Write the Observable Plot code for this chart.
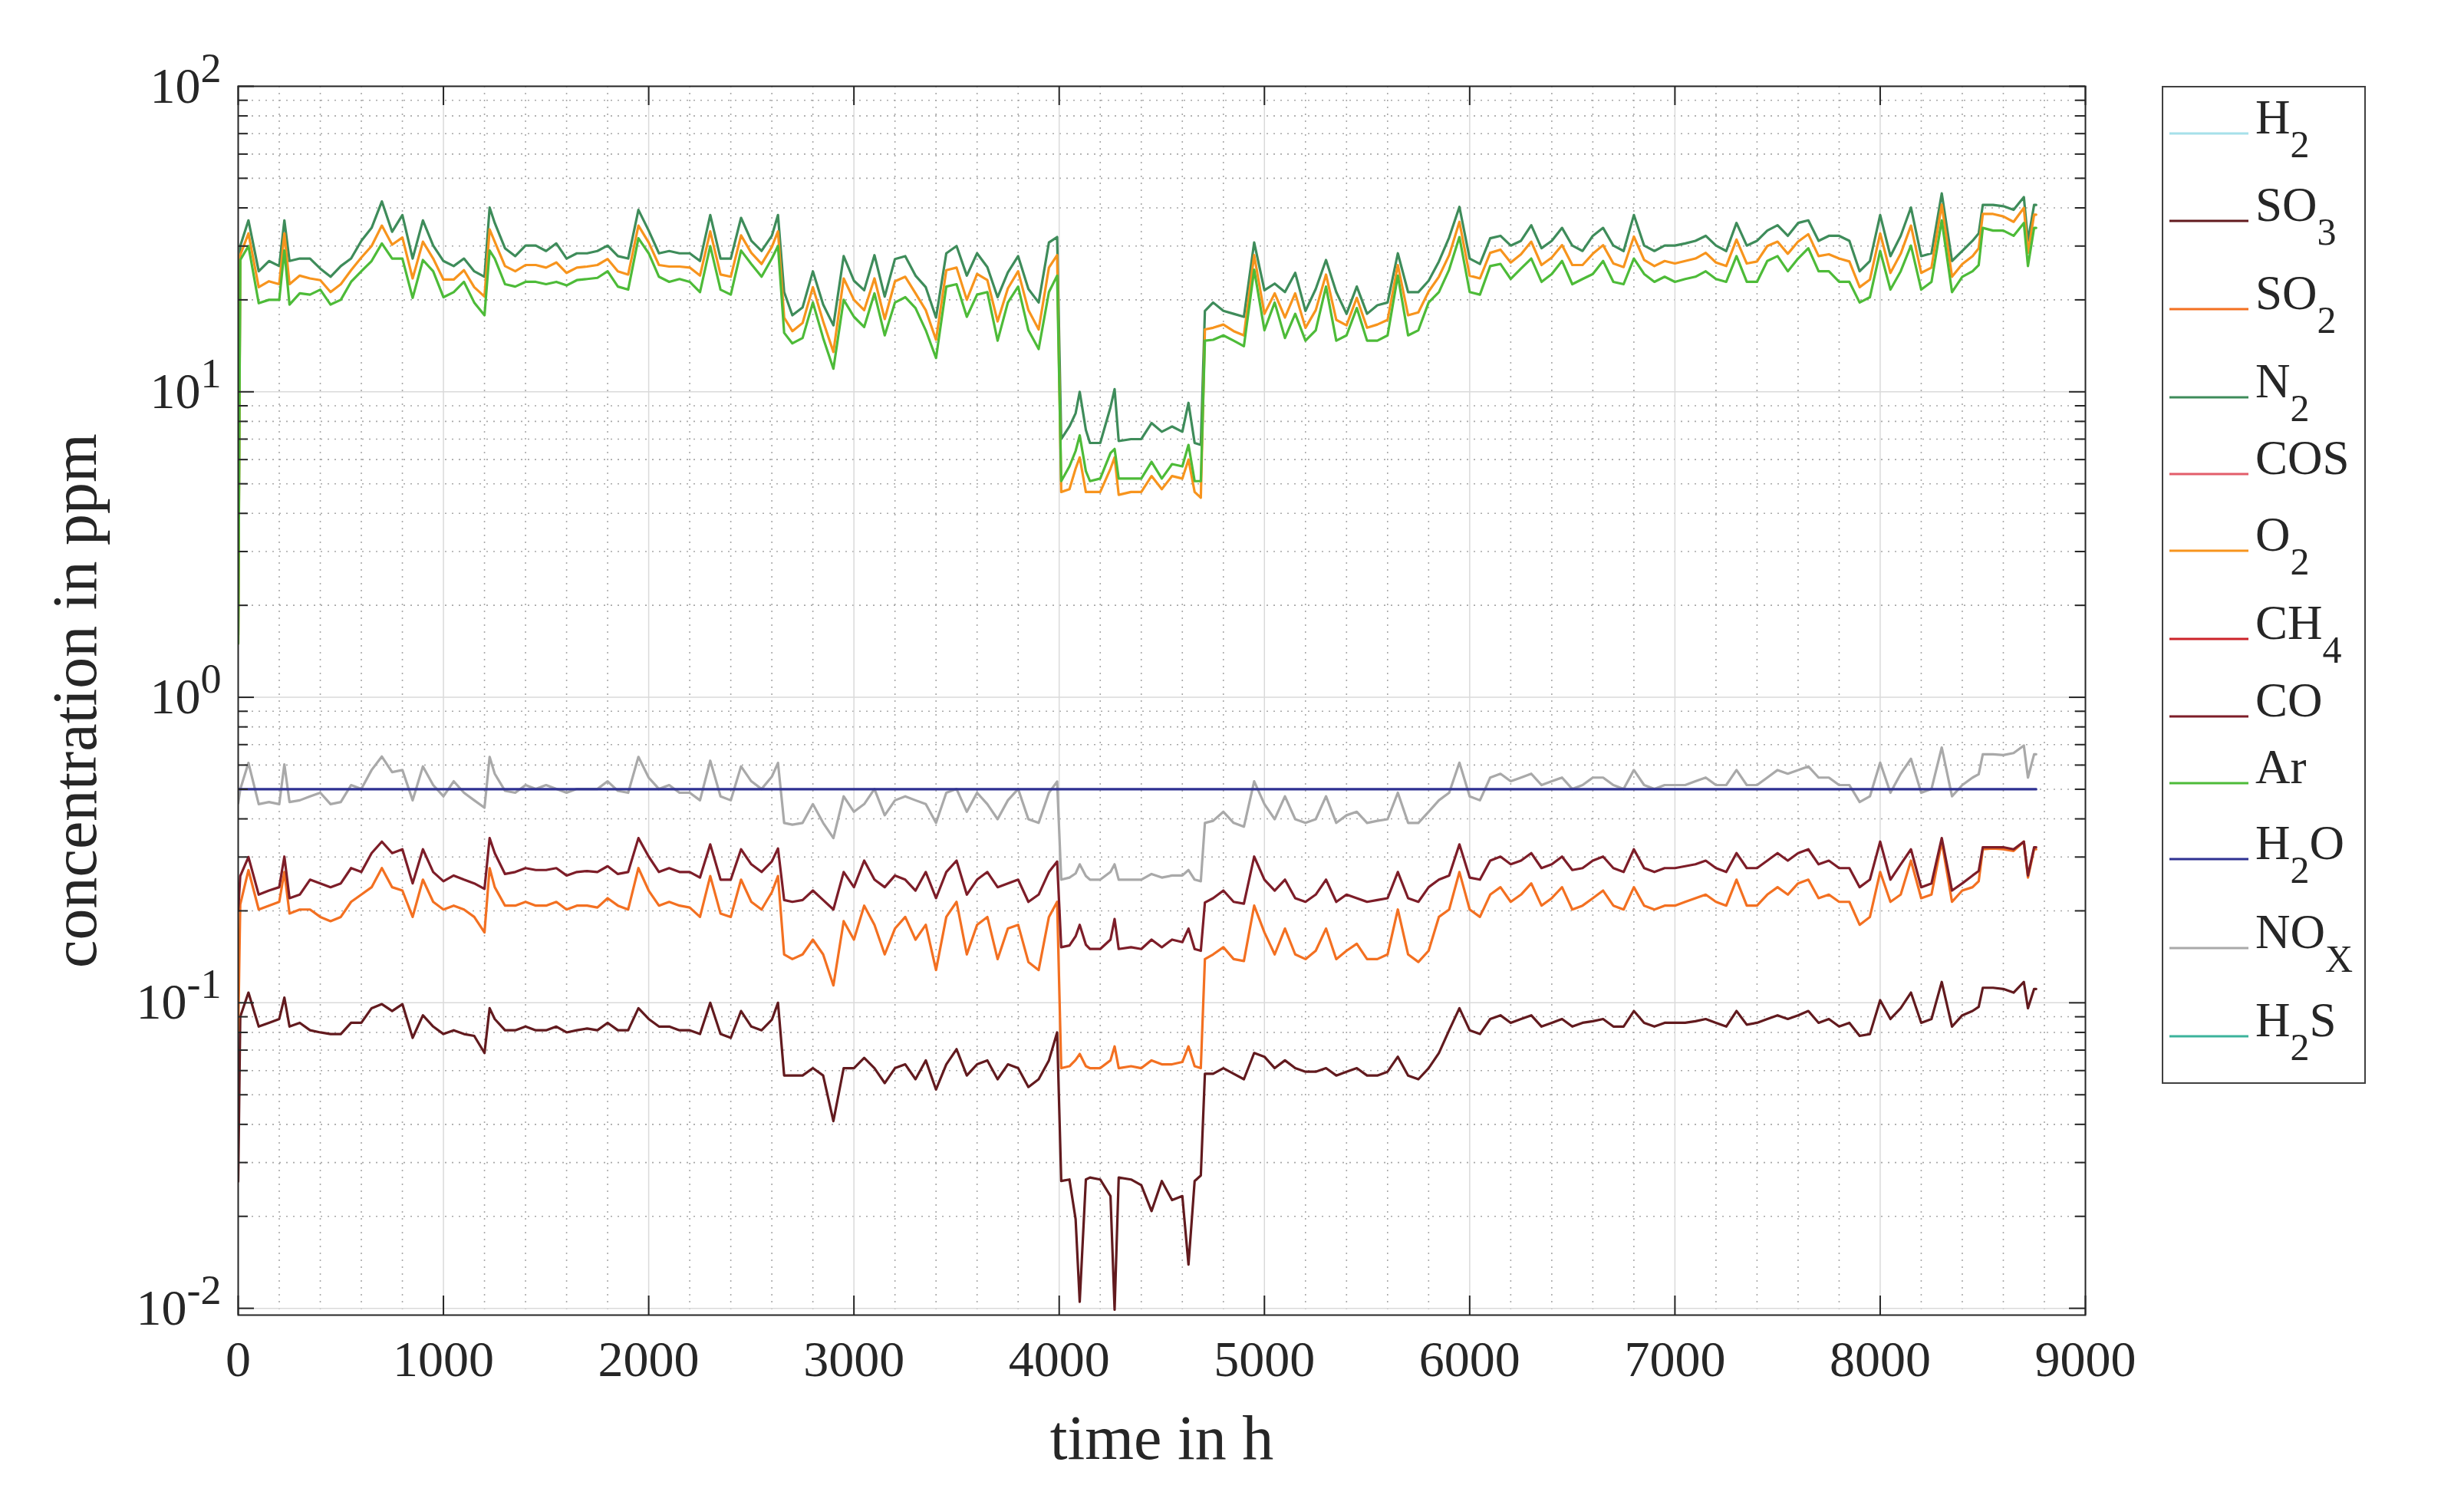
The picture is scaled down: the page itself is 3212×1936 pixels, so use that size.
<!DOCTYPE html>
<html><head><meta charset="utf-8">
<script src="https://cdn.jsdelivr.net/npm/d3@7"></script>
<script src="https://cdn.jsdelivr.net/npm/@observablehq/plot@0.6"></script>
<style>
html,body{margin:0;padding:0;background:#fff;}
#wrap{position:relative;width:3212px;height:1936px;overflow:hidden;}
</style></head><body><div id="wrap"></div>
<script>
// ---------- data (time in h, concentration in ppm) ----------
const hours = [
  0,10,50,100,150,200,225,250,300,350,
  400,450,500,550,600,650,700,750,800,850,
  900,950,1000,1050,1100,1150,1200,1225,1250,1300,
  1350,1400,1450,1500,1550,1600,1650,1700,1750,1800,
  1850,1900,1950,2000,2050,2100,2150,2200,2250,2300,
  2350,2400,2450,2500,2550,2600,2630,2660,2700,2750,
  2800,2850,2900,2950,3000,3050,3100,3150,3200,3250,
  3300,3350,3400,3450,3500,3550,3600,3650,3700,3750,
  3800,3850,3900,3950,3990,4010,4050,4080,4100,4130,
  4150,4200,4250,4270,4290,4350,4400,4450,4500,4550,
  4600,4630,4660,4690,4710,4750,4800,4850,4900,4950,
  5000,5050,5100,5150,5200,5250,5300,5350,5400,5450,
  5500,5550,5600,5650,5700,5750,5800,5850,5900,5950,
  6000,6050,6100,6150,6200,6250,6300,6350,6400,6450,
  6500,6550,6600,6650,6700,6750,6800,6850,6900,6950,
  7000,7050,7100,7150,7200,7250,7300,7350,7400,7450,
  7500,7550,7600,7650,7700,7750,7800,7850,7900,7950,
  8000,8050,8100,8150,8200,8250,8300,8350,8400,8450,
  8480,8500,8550,8600,8650,8700,8720,8750,8760
];

const n2 = [
  1.6,30,36.4,24.8,26.8,25.8,36.4,26.8,27.3,27.3,
  25.3,23.8,25.8,27.3,31.2,34.4,42,33.4,37.9,27.3,
  36.4,30.1,26.8,25.8,27.3,24.8,23.8,40.1,35.7,29.5,
  27.8,30.1,30.1,28.9,30.6,27.3,28.4,28.4,28.9,30.1,
  27.8,27.3,39.4,33.7,28.4,28.9,28.4,28.4,26.8,37.9,
  27.3,27.3,37.1,31.2,28.9,32.4,37.9,21.2,17.8,18.9,
  24.8,19.3,16.5,27.8,23.1,21.5,28,20.5,27.2,27.8,
  24.0,22,17.5,28.4,30,24.0,28.4,25.6,20.4,24.6,
  27.8,21.7,19.6,30.8,32.1,7.0,7.7,8.5,10.0,7.5,
  6.8,6.8,8.9,10.2,6.9,7.0,7.0,7.9,7.4,7.7,
  7.4,9.2,6.8,6.7,18.4,19.6,18.4,18.0,17.6,30.8,
  21.5,22.6,21.2,24.5,18.4,21.7,27,21.2,18.0,22.1,
  18.0,19.2,19.6,28.4,21.2,21.2,23.1,26.7,32,40.3,
  27.3,26.2,31.8,32.4,30.1,31.2,35.1,29.5,31.2,34.4,
  30.1,28.9,32.4,34.4,30.1,28.9,37.9,30.1,28.9,30.1,
  30.1,30.6,31.2,32.4,30.1,28.9,35.7,30.1,31.2,33.7,
  35.1,32.4,35.7,36.4,31.2,32.4,32.4,31.2,24.8,26.8,
  37.9,27.8,32.4,40.1,27.8,28.4,44.6,26.8,28.9,31.2,
  33,40.9,40.9,40.5,39.4,43.4,31.2,40.9,40.9
];

const o2 = [
  1.5,28,33,22,23,22.5,33,22.5,24,23.5,
  23.2,21.2,22.5,25,27.5,30,35,30.3,32,23.5,
  31,27.3,23.3,23.3,25,22,20.5,34,31,25.8,
  24.8,26,26,25.5,26.5,24.5,25.5,25.7,26,27.2,
  24.8,24.2,35,30.8,26,25.7,25.7,25.5,24,33.5,
  24.2,23.8,32.5,28.5,26.2,29.8,33.5,17.5,15.8,16.8,
  22,17,13.5,23.5,20,18.5,23.5,17.3,23,23.8,
  21,18.5,14.8,25,25.5,20,24.3,23.2,17,21.8,
  24.8,18.5,16,25.5,28,4.7,4.8,5.6,6.1,4.7,
  4.7,4.7,5.6,6.1,4.6,4.7,4.7,5.3,4.8,5.3,
  5.2,6.0,4.7,4.5,16,16.2,16.6,15.8,15.3,28,
  18,21,17.5,21,16.2,18.5,24.2,17.2,16.5,20.3,
  16.2,16.6,17.2,26,17.8,18.2,21.3,23.8,28,36,
  24,23.5,28.5,29.2,26.5,28.2,31,26,27.5,30.2,
  26,26,28.3,30.2,26.3,25.6,32.2,27,25.8,26.8,
  26.3,26.8,27.3,28.5,26.5,25.8,31.5,26.3,26.7,30,
  31,28.3,31,32.8,27.8,28.2,27.3,26.7,22,23.3,
  33,24.5,28.3,35,24.5,25.5,41,23.8,26.2,27.8,
  29.5,38.2,38.2,37.5,36,40,28.5,38,38
];

const ar = [
  1.5,27,30,19.5,20,20,29,19.3,21,20.8,
  21.6,19.3,20,22.9,24.8,26.8,30.6,27.3,27.3,20.3,
  27,24.8,20.4,21.2,22.9,19.6,17.8,29,27.3,22.5,
  22.1,22.9,22.9,22.5,22.9,22.3,23.2,23.4,23.6,24.8,
  22.1,21.6,31.8,28.4,23.8,22.9,23.4,22.9,21.2,30,
  21.6,20.8,29,26.2,23.8,27.3,30,15.6,14.4,15,
  19.6,15,11.9,20,17.6,16.3,21,15.3,19.6,20.4,
  18.8,15.9,12.9,22.1,22.5,17.6,20.8,21.2,14.7,19.6,
  22.1,15.9,13.8,21.2,24,5.1,5.7,6.4,7.2,5.5,
  5.1,5.2,6.3,6.5,5.2,5.2,5.2,5.9,5.2,5.8,
  5.7,6.7,5.1,5.1,14.7,14.8,15.3,14.7,14.1,25.1,
  15.9,19.6,15.0,18.0,14.7,15.9,22.1,14.7,15.3,18.8,
  14.7,14.7,15.3,24.0,15.3,15.9,19.6,21.2,25.1,32.1,
  21.2,20.8,25.8,26.2,23.4,25.3,27.3,22.9,24.3,26.8,
  22.5,23.4,24.3,26.8,22.9,22.5,27.3,24.3,22.9,23.8,
  22.9,23.4,23.8,24.8,23.4,22.9,27.8,22.9,22.9,26.8,
  27.8,24.8,27.3,29.5,24.8,24.8,22.9,22.9,19.6,20.4,
  28.9,21.6,24.8,30.1,21.6,22.9,36.4,21.2,23.8,24.8,
  26,34.4,33.7,33.7,32.4,35.7,25.8,34.4,34.4
];

const nox = [
  0.45,0.5,0.61,0.447,0.454,0.447,0.603,0.454,0.46,0.474,
  0.487,0.447,0.454,0.516,0.501,0.578,0.64,0.569,0.578,0.46,
  0.594,0.516,0.474,0.531,0.487,0.46,0.435,0.638,0.562,0.494,
  0.487,0.516,0.501,0.516,0.501,0.487,0.501,0.501,0.501,0.531,
  0.494,0.487,0.638,0.546,0.501,0.516,0.487,0.487,0.46,0.62,
  0.474,0.46,0.594,0.531,0.501,0.55,0.61,0.388,0.383,0.388,
  0.447,0.388,0.346,0.474,0.422,0.447,0.501,0.411,0.46,0.474,
  0.46,0.447,0.388,0.487,0.501,0.422,0.487,0.447,0.399,0.46,
  0.501,0.399,0.388,0.487,0.53,0.253,0.257,0.265,0.284,0.26,
  0.253,0.253,0.268,0.284,0.253,0.253,0.253,0.264,0.257,0.261,
  0.261,0.272,0.253,0.25,0.388,0.394,0.422,0.388,0.377,0.531,
  0.447,0.399,0.474,0.399,0.388,0.399,0.474,0.388,0.411,0.422,
  0.388,0.394,0.399,0.487,0.388,0.388,0.422,0.46,0.487,0.611,
  0.474,0.46,0.546,0.562,0.531,0.546,0.562,0.516,0.531,0.546,
  0.501,0.516,0.546,0.546,0.516,0.501,0.578,0.516,0.501,0.516,
  0.516,0.516,0.531,0.546,0.516,0.516,0.578,0.516,0.516,0.546,
  0.578,0.562,0.578,0.594,0.546,0.546,0.516,0.516,0.454,0.474,
  0.611,0.487,0.562,0.629,0.487,0.501,0.685,0.474,0.516,0.546,
  0.56,0.651,0.651,0.647,0.657,0.695,0.546,0.651,0.651
];

const co = [
  0.2,0.26,0.30,0.226,0.233,0.239,0.301,0.22,0.226,0.253,
  0.246,0.239,0.246,0.276,0.268,0.309,0.337,0.309,0.318,0.246,
  0.318,0.268,0.250,0.261,0.253,0.246,0.236,0.346,0.309,0.264,
  0.268,0.276,0.272,0.272,0.276,0.261,0.268,0.27,0.268,0.28,
  0.264,0.268,0.346,0.301,0.268,0.276,0.268,0.268,0.257,0.33,
  0.253,0.253,0.318,0.284,0.268,0.29,0.32,0.217,0.214,0.217,
  0.233,0.217,0.202,0.268,0.239,0.292,0.253,0.239,0.261,0.253,
  0.233,0.268,0.220,0.268,0.292,0.226,0.253,0.268,0.239,0.246,
  0.253,0.214,0.226,0.268,0.29,0.152,0.154,0.165,0.18,0.155,
  0.150,0.150,0.161,0.188,0.150,0.152,0.150,0.161,0.152,0.161,
  0.158,0.175,0.150,0.148,0.213,0.220,0.233,0.214,0.211,0.301,
  0.253,0.233,0.253,0.220,0.214,0.226,0.253,0.214,0.226,0.220,
  0.214,0.217,0.220,0.268,0.220,0.214,0.239,0.253,0.261,0.33,
  0.257,0.253,0.292,0.301,0.284,0.292,0.309,0.276,0.284,0.301,
  0.272,0.276,0.292,0.301,0.276,0.268,0.318,0.276,0.268,0.276,
  0.276,0.28,0.284,0.292,0.276,0.268,0.309,0.276,0.276,0.292,
  0.309,0.292,0.309,0.318,0.284,0.292,0.276,0.276,0.239,0.253,
  0.337,0.253,0.284,0.318,0.239,0.246,0.346,0.233,0.246,0.261,
  0.27,0.323,0.323,0.323,0.318,0.337,0.261,0.323,0.323
];

const so2 = [
  0.08,0.21,0.272,0.202,0.208,0.214,0.268,0.196,0.202,0.202,
  0.191,0.185,0.191,0.214,0.226,0.239,0.276,0.239,0.233,0.191,
  0.253,0.214,0.202,0.208,0.202,0.191,0.170,0.276,0.239,0.208,
  0.208,0.214,0.208,0.208,0.214,0.202,0.208,0.208,0.205,0.22,
  0.208,0.202,0.276,0.233,0.208,0.214,0.208,0.205,0.191,0.26,
  0.196,0.191,0.253,0.214,0.202,0.23,0.26,0.144,0.139,0.144,
  0.161,0.144,0.114,0.185,0.161,0.208,0.180,0.144,0.175,0.191,
  0.161,0.180,0.128,0.191,0.214,0.144,0.180,0.191,0.139,0.175,
  0.180,0.136,0.128,0.191,0.214,0.0611,0.062,0.065,0.068,0.062,
  0.0611,0.0611,0.0648,0.072,0.0611,0.062,0.0611,0.0648,0.0629,0.0629,
  0.064,0.072,0.062,0.0611,0.139,0.144,0.152,0.139,0.137,0.208,
  0.170,0.144,0.175,0.144,0.139,0.148,0.175,0.139,0.148,0.156,
  0.139,0.139,0.144,0.202,0.144,0.136,0.148,0.191,0.202,0.268,
  0.202,0.191,0.226,0.239,0.214,0.226,0.246,0.208,0.220,0.239,
  0.202,0.208,0.220,0.233,0.208,0.202,0.239,0.208,0.202,0.208,
  0.208,0.214,0.220,0.226,0.214,0.208,0.253,0.208,0.208,0.226,
  0.239,0.226,0.246,0.253,0.220,0.226,0.214,0.214,0.180,0.191,
  0.268,0.214,0.226,0.292,0.220,0.226,0.337,0.214,0.233,0.239,
  0.25,0.318,0.32,0.318,0.314,0.337,0.257,0.318,0.318
];

const so3 = [
  0.026,0.09,0.108,0.0836,0.086,0.0885,0.104,0.0836,0.086,0.0813,
  0.080,0.079,0.079,0.086,0.086,0.096,0.099,0.094,0.099,0.0768,
  0.091,0.0836,0.079,0.0813,0.079,0.0779,0.0685,0.096,0.0885,0.0813,
  0.0813,0.0836,0.0813,0.0813,0.0836,0.080,0.0813,0.0824,0.0813,0.086,
  0.0813,0.0813,0.096,0.0885,0.0836,0.0836,0.0813,0.0813,0.079,0.100,
  0.079,0.0768,0.094,0.0836,0.0813,0.088,0.100,0.0578,0.0578,0.0578,
  0.0611,0.0578,0.041,0.0611,0.0611,0.066,0.0611,0.0546,0.0611,0.0629,
  0.0562,0.0648,0.052,0.0629,0.0705,0.0578,0.0629,0.0648,0.0562,0.0629,
  0.0611,0.053,0.0562,0.0648,0.08,0.0261,0.0264,0.0196,0.0105,0.0264,
  0.0268,0.0264,0.0233,0.0099,0.0268,0.0264,0.0253,0.0208,0.0261,0.0226,
  0.0233,0.0139,0.0261,0.0272,0.0586,0.0586,0.0611,0.0586,0.0562,0.0685,
  0.0666,0.0611,0.0648,0.0611,0.0595,0.0595,0.0611,0.0578,0.0595,0.0611,
  0.0578,0.0578,0.0595,0.0666,0.0578,0.0562,0.0611,0.0685,0.0813,0.096,
  0.0813,0.079,0.0885,0.091,0.086,0.0885,0.091,0.0836,0.086,0.0885,
  0.0836,0.086,0.087,0.0885,0.0836,0.0836,0.094,0.086,0.0836,0.086,
  0.086,0.086,0.087,0.0885,0.086,0.0836,0.094,0.0848,0.086,0.0885,
  0.091,0.0885,0.091,0.094,0.086,0.0885,0.0836,0.086,0.0779,0.079,
  0.102,0.0885,0.096,0.108,0.086,0.0885,0.117,0.0836,0.091,0.094,
  0.097,0.112,0.112,0.111,0.108,0.117,0.096,0.111,0.111
];

const h2oHours = [0, 8760];
const h2o = [0.5, 0.5];

// legend entries (in legend order)
const legendNames = ["H2","SO3","SO2","N2","COS","O2","CH4","CO","Ar","H2O","NOX","H2S"];
const legendColors = ["#a6e0ea","#621a1e","#f37021","#3e8c5a","#e35d6a","#f7941d","#cc2229","#7d1d28","#4dbb38","#2e3192","#a9a9a9","#3cb39c"];
const colorOf = Object.fromEntries(legendNames.map((n,i)=>[n,legendColors[i]]));

// tick values
const xTickValues = [0,1000,2000,3000,4000,5000,6000,7000,8000,9000];
const yTickValues = [0.01,0.1,1,10,100];

// ---------- layout ----------
const W = 3212, H = 1936;
const mL = 310, mR = 494, mT = 112, mB = 222;
const frameW = W - mL - mR, frameH = H - mT - mB;
const yDomain = [0.0095, 100];

for (const [k, arr] of Object.entries({n2,o2,ar,nox,co,so2,so3})) {
  if (arr.length !== hours.length) console.error("length mismatch", k, arr.length, hours.length);
}

const xMinor = d3.range(200, 9000, 200).filter(d => d % 1000 !== 0);
const yMinor = [];
for (const e of [-3,-2,-1,0,1]) for (let m = 2; m <= 9; m++) {
  const v = m * Math.pow(10, e);
  if (v > yDomain[0] && v < yDomain[1]) yMinor.push(v);
}

function rows(key, ts, vs) { return ts.map((t,i) => ({series:key, t, v:vs[i]})); }
const drawOrder = [
  ["SO3", hours, so3], ["SO2", hours, so2], ["N2", hours, n2], ["O2", hours, o2],
  ["CO", hours, co], ["Ar", hours, ar], ["NOX", hours, nox], ["H2O", h2oHours, h2o]
];
const lineMarks = drawOrder.map(([k, ts, vs]) =>
  Plot.line(rows(k, ts, vs), {x:"t", y:"v", stroke: colorOf[k], strokeWidth: 3.2, strokeLinejoin:"round", clip:true}));

const ink = "#262626";
const chart = Plot.plot({
  width: W, height: H,
  marginLeft: mL, marginRight: mR, marginTop: mT, marginBottom: mB,
  style: {fontFamily: "'Liberation Serif', serif", color: ink, background: "#fff", overflow: "visible"},
  x: {domain: [0, 9000]},
  y: {type: "log", domain: yDomain},
  marks: [
    Plot.ruleX(xMinor, {stroke: "#a8a8a8", strokeWidth: 1.6, strokeDasharray: "2,7"}),
    Plot.ruleY(yMinor, {stroke: "#a8a8a8", strokeWidth: 1.6, strokeDasharray: "2,7"}),
    Plot.ruleX(xTickValues.slice(1, -1), {stroke: "#dadada", strokeWidth: 1.5}),
    Plot.ruleY(yTickValues, {stroke: "#dadada", strokeWidth: 1.5}),
    ...lineMarks,
    Plot.frame({stroke: ink, strokeWidth: 2}),
    Plot.tickX(xTickValues, {x: d => d, insetTop: frameH - 25, stroke: ink, strokeWidth: 2}),
    Plot.tickX(xTickValues, {x: d => d, insetBottom: frameH - 25, stroke: ink, strokeWidth: 2}),
    Plot.tickY(yTickValues, {y: d => d, insetRight: frameW - 21, stroke: ink, strokeWidth: 2}),
    Plot.tickY(yTickValues, {y: d => d, insetLeft: frameW - 21, stroke: ink, strokeWidth: 2}),
    Plot.tickY(yMinor, {y: d => d, insetRight: frameW - 13, stroke: ink, strokeWidth: 2}),
    Plot.tickY(yMinor, {y: d => d, insetLeft: frameW - 13, stroke: ink, strokeWidth: 2}),
    Plot.axisX(xTickValues, {tickSize: 0, tickPadding: 33, fontSize: 66, label: null, tickFormat: d => String(d)}),
    Plot.axisY(yTickValues, {tickSize: 0, tickPadding: 22, fontSize: 66, label: null,
      tickFormat: d => "10^" + Math.round(Math.log10(d))}),
    Plot.text(["time in h"], {text: d => d, frameAnchor: "bottom", textAnchor: "middle", dy: 187, fontSize: 82}),
    Plot.text(["concentration in ppm"], {text: d => d, frameAnchor: "left", textAnchor: "middle", dx: -212, rotate: -90, fontSize: 82})
  ]
});
document.getElementById("wrap").appendChild(chart);

// superscripts for the log-axis tick labels
d3.select(chart).selectAll('g[aria-label="y-axis tick label"] text').each(function() {
  const s = this.textContent;
  const [base, exp] = s.split("^");
  const t = d3.select(this);
  t.text(null);
  t.append("tspan").text(base);
  t.append("tspan").attr("dy", "-0.5em").attr("font-size", "0.82em").text(exp);
});

// ---------- legend ----------
const legendLabels = {
  H2: [["H",0],["2",1]], SO3: [["SO",0],["3",1]], SO2: [["SO",0],["2",1]], N2: [["N",0],["2",1]],
  COS: [["COS",0]], O2: [["O",0],["2",1]], CH4: [["CH",0],["4",1]], CO: [["CO",0]],
  Ar: [["Ar",0]], H2O: [["H",0],["2",1],["O",0]], NOX: [["NO",0],["X",1]], H2S: [["H",0],["2",1],["S",0]]
};
const legendBox = {left: 2818, top: 112, width: 266, height: 1301};
const legendRowY = [62,176,291,406,506,606,721,822,909,1008,1124,1239];
const lg = d3.select("#wrap").append("svg")
  .attr("width", legendBox.width).attr("height", legendBox.height)
  .style("position","absolute").style("left", legendBox.left + "px").style("top", legendBox.top + "px");
lg.append("rect").attr("x",1).attr("y",1).attr("width",legendBox.width-2).attr("height",legendBox.height-2)
  .attr("fill","#fff").attr("stroke","#404040").attr("stroke-width",2);
legendNames.forEach((name, i) => {
  const y = legendRowY[i];
  lg.append("line").attr("x1",10).attr("x2",113).attr("y1",y).attr("y2",y)
    .attr("stroke", legendColors[i]).attr("stroke-width",3);
  const txt = lg.append("text").attr("x",122).attr("y",y)
    .attr("font-family","'Liberation Serif', serif").attr("font-size",63).attr("fill",ink);
  let shifted = false;
  for (const [s, sub] of legendLabels[name]) {
    const ts = txt.append("tspan").text(s);
    if (sub && !shifted) { ts.attr("dy", 31).attr("font-size", 50); shifted = true; }
    else if (!sub && shifted) { ts.attr("dy", -31); shifted = false; }
  }
});
</script></body></html>
